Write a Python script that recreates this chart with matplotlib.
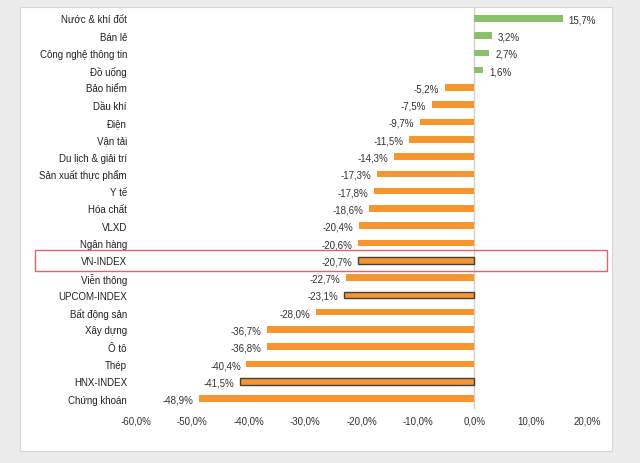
import matplotlib.pyplot as plt
from matplotlib.patches import Rectangle

plt.rcParams['font.family'] = ['Liberation Sans', 'DejaVu Sans']

# data (top to bottom)
categories = ["Nước & khí đốt", "Bán lẻ", "Công nghệ thông tin", "Đồ uống", "Bảo hiểm",
              "Dầu khí", "Điện", "Vận tải", "Du lịch & giải trí", "Sản xuất thực phẩm",
              "Y tế", "Hóa chất", "VLXD", "Ngân hàng", "VN-INDEX", "Viễn thông",
              "UPCOM-INDEX", "Bất động sản", "Xây dựng", "Ô tô", "Thép", "HNX-INDEX",
              "Chứng khoán"]
values = [15.7, 3.2, 2.7, 1.6, -5.2, -7.5, -9.7, -11.5, -14.3, -17.3, -17.8, -18.6,
          -20.4, -20.6, -20.7, -22.7, -23.1, -28.0, -36.7, -36.8, -40.4, -41.5, -48.9]
indexes = ["VN-INDEX", "UPCOM-INDEX", "HNX-INDEX"]
xticks = [-60, -50, -40, -30, -20, -10, 0, 10, 20]

green = "#8cc06a"
orange = "#f7962f"
fs = 7

fig = plt.figure(figsize=(6.4, 4.64), dpi=100, facecolor="#ececec")
# white panel
fig.patches.append(Rectangle((20 / 640, 1 - 452 / 464), 592 / 640, 444 / 464,
                             transform=fig.transFigure, facecolor="white",
                             edgecolor="#d6d6d6", linewidth=0.8, zorder=0))

ax = fig.add_axes([136 / 640, 1 - 410 / 464, 451 / 640, 402 / 464])
ax.set_facecolor("none")
ax.set_zorder(2)

for i, (c, v) in enumerate(zip(categories, values)):
    col = green if v > 0 else orange
    if c in indexes:
        ax.barh(i, v, height=0.38, color=col, edgecolor="#404040", linewidth=1.0)
    else:
        ax.barh(i, v, height=0.38, color=col, linewidth=0)
    lab = ("%.1f%%" % v).replace(".", ",")
    if v > 0:
        ax.text(v + 1.0, i, lab, va="center_baseline", ha="left", fontsize=fs, color="#333333")
    else:
        ax.text(v - 1.0, i, lab, va="center_baseline", ha="right", fontsize=fs, color="#333333")
    ax.text(-61.6, i, c, va="center_baseline", ha="right", fontsize=fs, color="#222222")

ax.set_xlim(-60, 20)
ax.set_ylim(22.6, -0.65)
ax.axvline(0, color="#d0d0d0", linewidth=1.0, zorder=0)
ax.set_yticks([])
ax.set_xticks(xticks)
ax.set_xticklabels([("%.1f%%" % t).replace(".", ",") for t in xticks], fontsize=fs,
                   color="#333333")
ax.tick_params(axis="x", length=0, pad=5)
for s in ax.spines.values():
    s.set_visible(False)

# highlight box around VN-INDEX
box = Rectangle((35 / 640, 1 - 272 / 464), 572 / 640, 21 / 464,
                transform=fig.transFigure, facecolor="none",
                edgecolor="#e5626b", linewidth=1.0)
box.set_zorder(5)
fig.add_artist(box)

fig.savefig("out.png", dpi=100, facecolor=fig.get_facecolor())
